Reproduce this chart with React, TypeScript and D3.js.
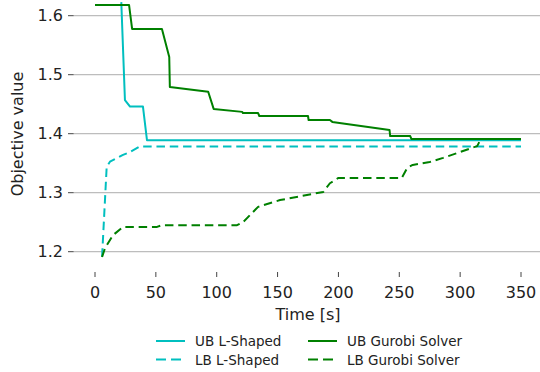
import React from "react";
import * as d3 from "d3";

const ubLShapedT = [21.6, 24.6, 28.8, 39.4, 42.7, 350];
const ubLShapedV = [1.623, 1.457, 1.446, 1.446, 1.389, 1.389];

const lbLShapedT = [5.8, 9.6, 12.3, 23, 28.8, 37, 350];
const lbLShapedV = [1.1915, 1.344, 1.3525, 1.364, 1.369, 1.3785, 1.3785];

const ubGurobiT = [0, 28, 30.5, 55, 61, 61.5, 93, 97.5, 121, 121.5, 134, 135, 175, 175.5, 193, 195, 242, 242.5, 259, 260, 350];
const ubGurobiV = [1.618, 1.618, 1.5775, 1.5775, 1.53, 1.479, 1.471, 1.442, 1.437, 1.435, 1.435, 1.43, 1.43, 1.4232, 1.4232, 1.42, 1.4063, 1.396, 1.396, 1.391, 1.391];

const lbGurobiT = [5.8, 8.2, 14.8, 23, 51, 55, 116.7, 121.6, 134, 152, 187.6, 193, 200, 252, 256.5, 261, 275, 286, 314, 317];
const lbGurobiV = [1.191, 1.206, 1.228, 1.242, 1.242, 1.245, 1.245, 1.25, 1.276, 1.2875, 1.3013, 1.316, 1.325, 1.325, 1.342, 1.347, 1.352, 1.359, 1.379, 1.391];

const xTicks = [0, 50, 100, 150, 200, 250, 300, 350];
const yTicks = [1.2, 1.3, 1.4, 1.5, 1.6];

const seriesNames = ["UB L-Shaped", "LB L-Shaped", "UB Gurobi Solver", "LB Gurobi Solver"];

const CYAN = "#00bfbf";
const GREEN = "#008000";
const FONT = "DejaVu Sans";

export default function App() {
  const W = 540, H = 372;
  const x = d3.scaleLinear().domain([0, 350]).range([95, 521]);
  const y = d3.scaleLinear().domain([1.2, 1.6]).range([251.7, 15.7]);
  const axLeft = 73.7, axRight = 540, axBottom = 270.6;

  const line = d3.line<[number, number]>().x(d => x(d[0])).y(d => y(d[1]));
  const mk = (t: number[], v: number[]) => line(t.map((tt, i) => [tt, v[i]] as [number, number])) || "";

  const series = [
    { name: seriesNames[0], d: mk(ubLShapedT, ubLShapedV), color: CYAN, dash: undefined, ldash: undefined },
    { name: seriesNames[1], d: mk(lbLShapedT, lbLShapedV), color: CYAN, dash: "8.5,4.8", ldash: "10,5" },
    { name: seriesNames[2], d: mk(ubGurobiT, ubGurobiV), color: GREEN, dash: undefined, ldash: undefined },
    { name: seriesNames[3], d: mk(lbGurobiT, lbGurobiV), color: GREEN, dash: "8.5,4.8", ldash: "10,5" },
  ];

  const legendPos = [
    { lx: 156, ly: 341 },
    { lx: 156, ly: 359.5 },
    { lx: 308, ly: 341 },
    { lx: 308, ly: 359.5 },
  ];

  return (
    <div style={{ position: "absolute", left: 0, top: 0 }}>
      <svg width={W} height={H} style={{ display: "block" }} fontFamily={FONT}>
        <rect width={W} height={H} fill="#fff" />
        <defs>
          <clipPath id="ax">
            <rect x={axLeft} y={0} width={axRight - axLeft} height={axBottom} />
          </clipPath>
        </defs>
        {yTicks.map(t => (
          <g key={"y" + t}>
            <line x1={axLeft} x2={axRight} y1={y(t)} y2={y(t)} stroke="#bdbdbd" strokeWidth={1.2} />
            <line x1={68} x2={73.7} y1={y(t)} y2={y(t)} stroke="#444" strokeWidth={1} />
            <text x={63} y={y(t)} dy="0.36em" textAnchor="end" fontSize={16} fill="#222">{t.toFixed(1)}</text>
          </g>
        ))}
        {xTicks.map(t => (
          <g key={"x" + t}>
            <line x1={x(t)} x2={x(t)} y1={272} y2={277} stroke="#444" strokeWidth={1} />
            <text x={x(t)} y={297.5} textAnchor="middle" fontSize={16} fill="#222">{t}</text>
          </g>
        ))}
        <text x={308} y={320} textAnchor="middle" fontSize={16} fill="#222">Time [s]</text>
        <text transform={`translate(23,134) rotate(-90)`} textAnchor="middle" fontSize={16} fill="#222">Objective value</text>
        <g clipPath="url(#ax)">
          {series.map(s => (
            <path key={s.name} d={s.d} fill="none" stroke={s.color} strokeWidth={2} strokeDasharray={s.dash} strokeLinejoin="round" />
          ))}
        </g>
        {series.map((s, i) => (
          <g key={"lg" + i}>
            <line x1={legendPos[i].lx} x2={legendPos[i].lx + 29} y1={legendPos[i].ly} y2={legendPos[i].ly} stroke={s.color} strokeWidth={2} strokeDasharray={s.ldash} />
            <text x={legendPos[i].lx + 39} y={legendPos[i].ly + 5} fontSize={13.5} fill="#222">{s.name}</text>
          </g>
        ))}
      </svg>
    </div>
  );
}
